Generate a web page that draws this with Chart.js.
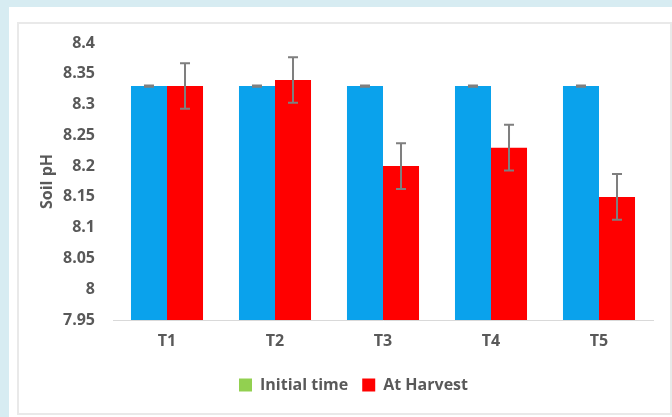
<!DOCTYPE html>
<html>
<head>
<meta charset="utf-8">
<script src="https://cdn.jsdelivr.net/npm/chart.js@4.4.0/dist/chart.umd.min.js"></script>
<style>
  html, body { margin: 0; padding: 0; }
  body { width: 672px; height: 417px; background: #d7ecf2; position: relative; overflow: hidden; }
  #panel { position: absolute; left: 9px; top: 7px; width: 663px; height: 410px; background: #fff; }
  #frame { position: absolute; left: 17px; top: 22px; width: 651px; height: 389px; border: 2px solid #e9e9e9; background: #fff; }
  #wrap { position: absolute; left: 0; top: 0; width: 672px; height: 417px; }
</style>
</head>
<body>
<div id="panel"></div>
<div id="frame"></div>
<div id="wrap"><canvas id="chart" width="672" height="417"></canvas></div>
<script>
document.addEventListener('DOMContentLoaded', function () {
  // Data
  const categories = ['T1', 'T2', 'T3', 'T4', 'T5'];
  const initialTime = [8.33, 8.33, 8.33, 8.33, 8.33];
  const atHarvest = [8.33, 8.34, 8.20, 8.23, 8.15];
  const initialErr = [0.001, 0.001, 0.001, 0.001, 0.001];
  const harvestErr = [0.037, 0.037, 0.037, 0.037, 0.037];
  const seriesNames = ['Initial time', 'At Harvest'];
  const legendColors = ['#92d050', '#ff0000'];

  const textColor = '#595959';
  const font = { family: 'Open Sans', size: 16, weight: 'bold' };

  // draws the error bars on top of the bars
  const errorBars = {
    id: 'errorBars',
    afterDatasetsDraw(chart) {
      const ctx = chart.ctx;
      const y = chart.scales.y;
      chart.data.datasets.forEach(function (ds, i) {
        const meta = chart.getDatasetMeta(i);
        meta.data.forEach(function (bar, j) {
          const v = ds.data[j];
          const e = ds.errors[j];
          const top = y.getPixelForValue(v + e);
          const bot = y.getPixelForValue(v - e);
          ctx.save();
          ctx.strokeStyle = '#7f7f7f';
          ctx.lineWidth = 2;
          ctx.beginPath();
          ctx.moveTo(bar.x, top); ctx.lineTo(bar.x, bot);
          ctx.moveTo(bar.x - 5, top); ctx.lineTo(bar.x + 5, top);
          ctx.moveTo(bar.x - 5, bot); ctx.lineTo(bar.x + 5, bot);
          ctx.stroke();
          ctx.restore();
        });
      });
    }
  };

  // legend in the original sits a bit right of centre
  const legendShift = {
    id: 'legendShift',
    afterUpdate(chart) {
      chart.legend.left += 8;
      chart.legend.right += 8;
    }
  };

  new Chart(document.getElementById('chart'), {
    type: 'bar',
    data: {
      labels: categories,
      datasets: [{
        label: seriesNames[0],
        data: initialTime,
        errors: initialErr,
        backgroundColor: '#0aa2ec',
        barPercentage: 1,
        categoryPercentage: 0.667
      }, {
        label: seriesNames[1],
        data: atHarvest,
        errors: harvestErr,
        backgroundColor: '#ff0000',
        barPercentage: 1,
        categoryPercentage: 0.667
      }]
    },
    options: {
      responsive: false,
      animation: false,
      layout: { padding: { left: 38, right: 19, top: 43, bottom: 14 } },
      scales: {
        x: {
          grid: { display: false },
          border: { color: '#d9d9d9', width: 1 },
          ticks: { color: textColor, font: font, padding: 4 },
          afterFit: function (s) { s.height = 43; }
        },
        y: {
          min: 7.95,
          max: 8.4,
          grid: { display: false },
          border: { display: false },
          ticks: {
            stepSize: 0.05,
            color: textColor,
            font: font,
            padding: 10,
            callback: function (v) { return String(Number(v.toFixed(2))); }
          },
          title: { display: true, text: 'Soil pH', color: textColor, font: font, padding: 0 },
          afterFit: function (s) { s.width = 75; }
        }
      },
      plugins: {
        tooltip: { enabled: false },
        legend: {
          position: 'bottom',
          labels: {
            color: textColor,
            font: font,
            boxWidth: 13,
            boxHeight: 13,
            padding: 14,
            generateLabels: function (chart) {
              return chart.data.datasets.map(function (ds, i) {
                return {
                  text: ds.label,
                  fillStyle: legendColors[i],
                  strokeStyle: legendColors[i],
                  lineWidth: 0,
                  fontColor: textColor,
                  datasetIndex: i
                };
              });
            }
          }
        }
      }
    },
    plugins: [errorBars, legendShift]
  });
});
</script>
</body>
</html>
